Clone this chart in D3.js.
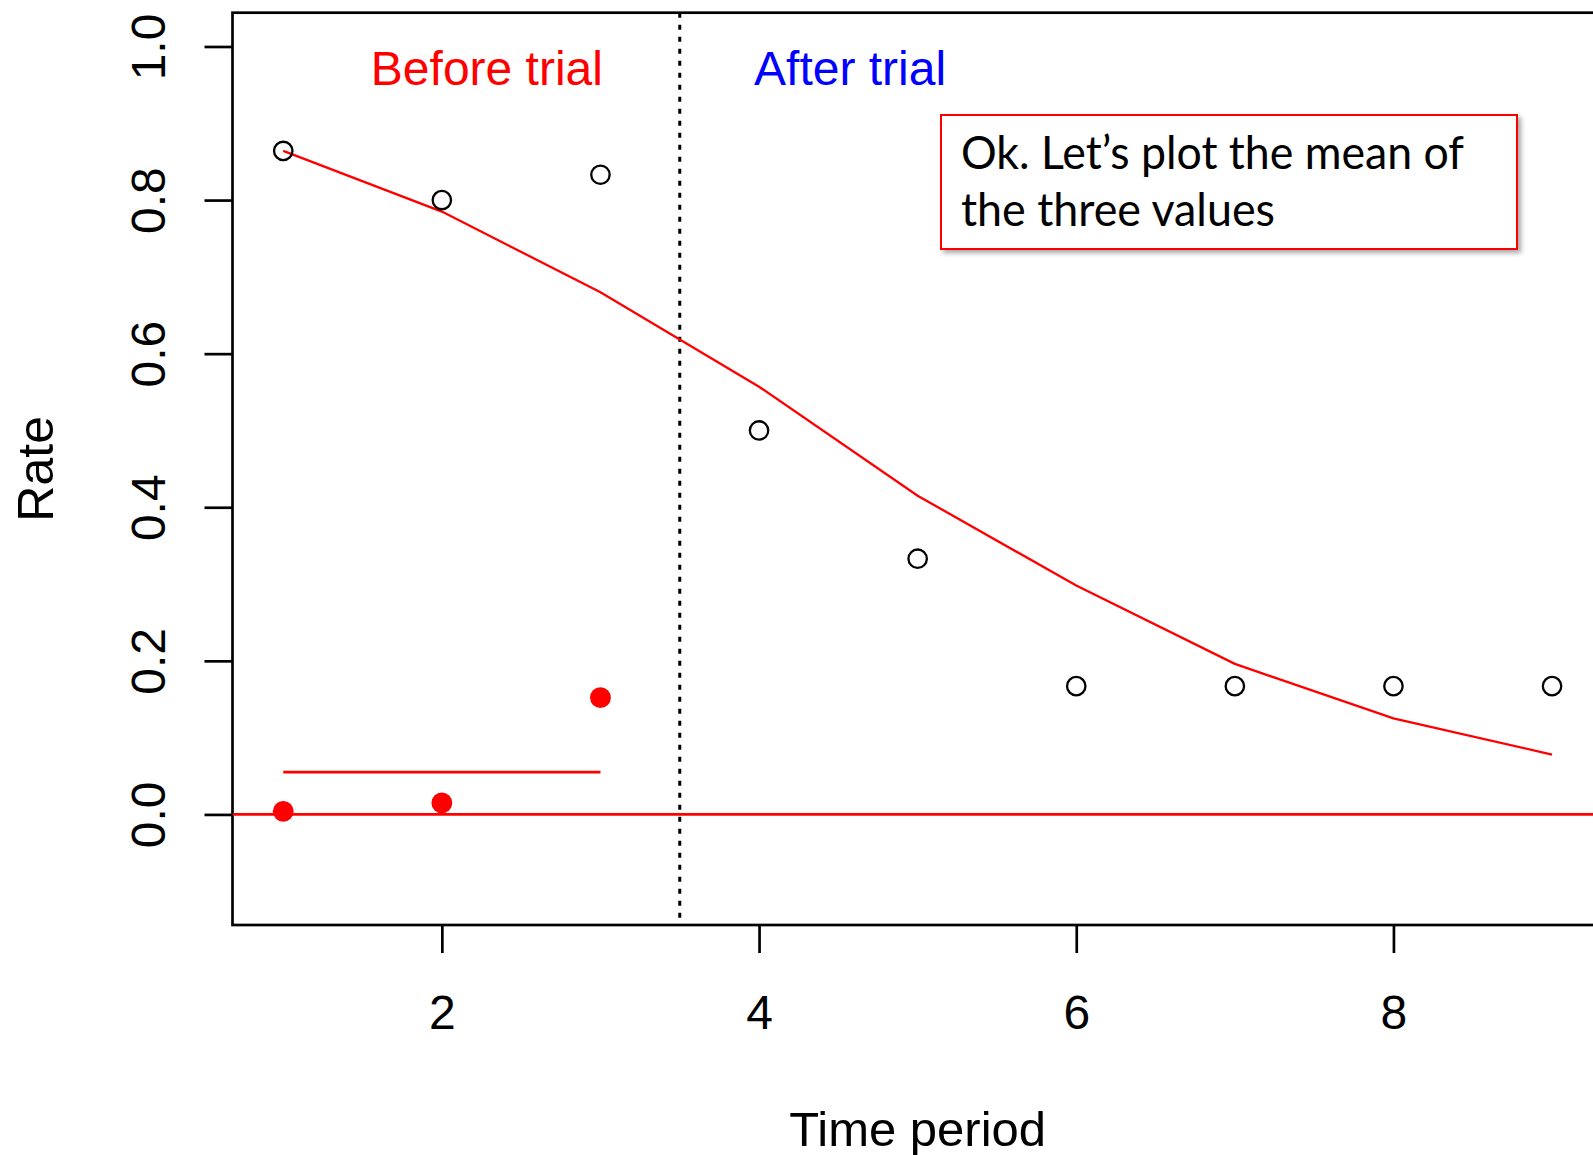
<!DOCTYPE html>
<html><head><meta charset="utf-8">
<script src="https://cdn.jsdelivr.net/npm/d3@7"></script>
<style>html,body{margin:0;padding:0;background:#fff;overflow:hidden}</style>
</head><body>
<svg id="chart" width="1593" height="1155"></svg>
<script>
// ---- data ----
const periods = [1, 2, 3, 4, 5, 6, 7, 8, 9];
const observedRate = [0.864, 0.8, 0.833, 0.5, 0.333, 0.167, 0.167, 0.167, 0.167];
const fittedRate = [0.864, 0.785, 0.68, 0.557, 0.415, 0.298, 0.196, 0.125, 0.078];
const beforePeriods = [1, 2, 3];
const beforeValues = [0.004, 0.015, 0.152];
const beforeMean = [0.055];
const xTicks = [2, 4, 6, 8];
const yTicks = [0.0, 0.2, 0.4, 0.6, 0.8, 1.0];
const trialBoundary = [3.5];
const phaseLabels = ["Before trial", "After trial"];
const phaseLabelX = [2.284, 4.574];
const phaseLabelY = [0.95, 0.95];
const noteLines = ["Ok. Let\u2019s plot the mean of", "the three values"];

// ---- layout ----
const svg = d3.select("#chart");
const plotLeft = 232.5, plotRight = 1602.8, plotTop = 12.7, plotBottom = 925;
const x = d3.scaleLinear().domain([0.68, 9.32]).range([plotLeft, plotRight]);
const y = d3.scaleLinear().domain([-0.144, 1.044]).range([plotBottom, plotTop]);
const RFONT = "'Liberation Sans', Arial, Helvetica, sans-serif";

// drop shadow filter
const defs = svg.append("defs");
const f = defs.append("filter").attr("id", "shadow").attr("x", "-5%").attr("y", "-10%").attr("width", "115%").attr("height", "130%");
f.append("feDropShadow").attr("dx", 3).attr("dy", 3).attr("stdDeviation", 2.5).attr("flood-color", "#000").attr("flood-opacity", 0.35);

// axes
const xAxis = d3.axisBottom(x).tickValues(xTicks).tickSize(28).tickFormat(d3.format("d"));
const gx = svg.append("g").attr("transform", `translate(0,${plotBottom})`).call(xAxis);
gx.select(".domain").remove();
gx.selectAll(".tick line").attr("stroke", "#000").attr("stroke-width", 2.7);
gx.selectAll(".tick text").attr("font-family", RFONT).attr("font-size", 48).attr("fill", "#000")
  .attr("dy", null).attr("y", 104);

const yAxis = d3.axisLeft(y).tickValues(yTicks).tickSize(28).tickFormat(d3.format(".1f"));
const gy = svg.append("g").attr("transform", `translate(${plotLeft},0)`).call(yAxis);
gy.select(".domain").remove();
gy.selectAll(".tick line").attr("stroke", "#000").attr("stroke-width", 2.7);
gy.selectAll(".tick text").attr("font-family", RFONT).attr("font-size", 48).attr("fill", "#000")
  .attr("x", null).attr("dy", null).attr("text-anchor", "middle")
  .attr("transform", `translate(${165 - plotLeft},0) rotate(-90)`);

// box (right side goes off the canvas)
svg.append("rect").attr("x", plotLeft).attr("y", plotTop)
  .attr("width", plotRight - plotLeft).attr("height", plotBottom - plotTop)
  .attr("fill", "none").attr("stroke", "#000").attr("stroke-width", 2.7);

// axis titles
svg.append("text").attr("x", (plotLeft + plotRight) / 2).attr("y", 1146)
  .attr("text-anchor", "middle").attr("font-family", RFONT).attr("font-size", 49).attr("fill", "#000")
  .text("Time period");
svg.append("text").attr("transform", `translate(53,${(plotTop + plotBottom) / 2}) rotate(-90)`)
  .attr("text-anchor", "middle").attr("font-family", RFONT).attr("font-size", 50).attr("fill", "#000")
  .text("Rate");

// clip for plot-region lines
defs.append("clipPath").attr("id", "plotclip").append("rect")
  .attr("x", plotLeft).attr("y", plotTop).attr("width", plotRight - plotLeft).attr("height", plotBottom - plotTop);
const plot = svg.append("g").attr("clip-path", "url(#plotclip)");

// zero line
plot.append("line").attr("x1", plotLeft).attr("x2", plotRight).attr("y1", y(0)).attr("y2", y(0))
  .attr("stroke", "#ff0000").attr("stroke-width", 2.7);

// trial boundary dotted line
plot.selectAll("line.boundary").data(trialBoundary).join("line").attr("class", "boundary")
  .attr("x1", d => x(d)).attr("x2", d => x(d)).attr("y1", plotTop).attr("y2", plotBottom)
  .attr("stroke", "#000").attr("stroke-width", 3).attr("stroke-dasharray", "5,7");

// fitted curve
const line = d3.line().x((d, i) => x(periods[i])).y(d => y(d));
plot.append("path").datum(fittedRate).attr("d", line)
  .attr("fill", "none").attr("stroke", "#ff0000").attr("stroke-width", 2.3);

// observed open circles
plot.selectAll("circle.obs").data(observedRate).join("circle").attr("class", "obs")
  .attr("cx", (d, i) => x(periods[i])).attr("cy", d => y(d)).attr("r", 9.2)
  .attr("fill", "none").attr("stroke", "#000").attr("stroke-width", 2.3);

// mean line of before values
plot.selectAll("line.mean").data(beforeMean).join("line").attr("class", "mean")
  .attr("x1", x(d3.min(beforePeriods))).attr("x2", x(d3.max(beforePeriods)))
  .attr("y1", d => y(d)).attr("y2", d => y(d))
  .attr("stroke", "#ff0000").attr("stroke-width", 2.7);

// before filled red points
plot.selectAll("circle.before").data(beforeValues).join("circle").attr("class", "before")
  .attr("cx", (d, i) => x(beforePeriods[i])).attr("cy", d => y(d)).attr("r", 10.4)
  .attr("fill", "#ff0000");

// phase labels
svg.selectAll("text.phase").data(phaseLabels).join("text").attr("class", "phase")
  .attr("x", (d, i) => x(phaseLabelX[i])).attr("y", (d, i) => y(phaseLabelY[i]))
  .attr("text-anchor", "middle").attr("font-family", RFONT).attr("font-size", 48)
  .attr("fill", (d, i) => i === 0 ? "#ff0000" : "#0000ff")
  .text(d => d);

// annotation box
const note = svg.append("g");
note.append("rect").attr("x", 941).attr("y", 115).attr("width", 576).attr("height", 134)
  .attr("fill", "#fff").attr("stroke", "#ff0000").attr("stroke-width", 2).attr("filter", "url(#shadow)");
const noteWidths = [503, 314];
note.selectAll("text").data(noteLines).join("text")
  .attr("x", 961).attr("y", (d, i) => 168.5 + i * 57)
  .attr("font-family", "Lato, 'Open Sans', sans-serif").attr("font-size", 47).attr("fill", "#000")
  .attr("textLength", (d, i) => noteWidths[i]).attr("lengthAdjust", "spacingAndGlyphs")
  .text(d => d);
</script>
</body></html>
